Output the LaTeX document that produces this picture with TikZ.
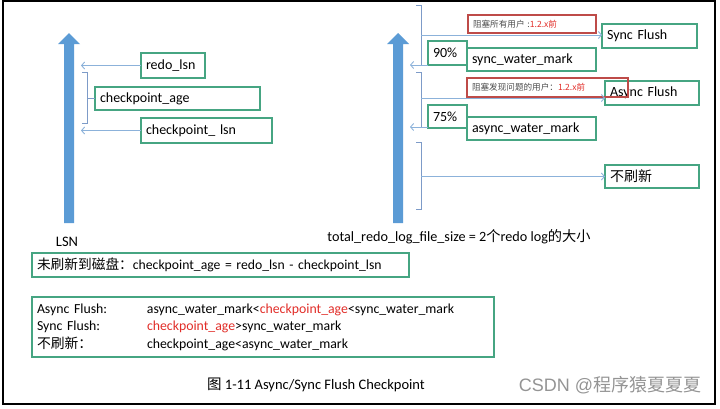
\documentclass[tikz,border=0pt]{standalone}
\usepackage{fontspec}
\setmainfont{Carlito}
\newfontfamily\cjk{Noto Sans CJK SC}
\newfontfamily\wmfont{Liberation Sans}
\usetikzlibrary{arrows.meta}
\definecolor{boxgreen}{RGB}{70,165,130}
\definecolor{boxred}{RGB}{190,75,72}
\definecolor{txtred}{RGB}{225,45,40}
\definecolor{ptrblue}{RGB}{140,178,218}
\definecolor{brkblue}{RGB}{125,155,200}
\definecolor{lsnblue}{RGB}{91,155,213}
\tikzset{
  gbox/.style={draw=boxgreen,line width=1.3pt,anchor=north west,outer sep=0pt,
    inner xsep=5pt,inner ysep=0pt,align=left,font=\fontsize{14}{16}\selectfont},
  rbox/.style={draw=boxred,line width=1.1pt,anchor=north west,outer sep=0pt,
    inner xsep=5pt,inner ysep=0pt,align=left,text=black!70,font=\cjk\fontsize{8.6}{10}\selectfont},
  ptr/.style={draw=ptrblue,line width=0.9pt,-{Straight Barb[length=3pt,width=7pt]}},
  brk/.style={draw=brkblue,line width=0.9pt},
  plain/.style={inner sep=0pt,font=\fontsize{14.2}{16}\selectfont}
}
\begin{document}
\begin{tikzpicture}[x=1pt,y=-1pt]
\useasboundingbox (0,0) rectangle (720,408);
\draw[line width=1.2pt] (3,1) rectangle (715,404);
% LSN arrows
\fill[lsnblue] (64,223)--(64,44)--(58,44)--(69,33)--(80,44)--(74,44)--(74,223)--cycle;
\fill[lsnblue] (393,223)--(393,44)--(387,44)--(398,33)--(409,44)--(403,44)--(403,223)--cycle;
\coordinate (edgeL) at (81,0);
\coordinate (edgeR) at (410,0);
\node[plain,font=\fontsize{14.5}{16}\selectfont] (lsn) at (67,242) {LSN};
% left side
\node[gbox,text width=54pt,minimum height=25pt] (redo) at (141,53) {redo\_lsn};
\node[gbox,text width=155pt,minimum height=23pt] (age) at (95,87) {checkpoint\_age};
\node[gbox,text width=121pt,minimum height=25pt] (clsn) at (141,118) {checkpoint\_ lsn};
\draw[ptr] (redo.west) -- (redo.west -| edgeL);
\draw[ptr] (clsn.west) -- (clsn.west -| edgeL);
\draw[brk] (82,72)--(87,72)--(87,123)--(82,123);
\coordinate (lb) at (87,98.5);
\draw[brk] (lb) -- (lb -| age.west);
% right side
\node[gbox,text width=85pt,minimum height=24pt] (sflush) at (602,24) {Sync Flush};
\node[gbox,text width=29pt,minimum height=24pt] (p90) at (428,41) {90\%};
\node[gbox,text width=119pt,minimum height=23pt] (smark) at (467,48) {sync\_water\_mark};
\node[gbox,text width=84pt,minimum height=24pt] (aflush) at (605,81) {Async Flush};
\node[gbox,text width=29pt,minimum height=23pt] (p75) at (428,105) {75\%};
\node[gbox,text width=119pt,minimum height=23pt] (amark) at (467,117) {async\_water\_mark};
\node[gbox,text width=84pt,minimum height=23pt] (nflush) at (605,165) {{\cjk 不刷新}};
\node[rbox,text width=118pt,minimum height=18pt] (red1) at (468,15) {阻塞所有用户 :\textcolor{txtred}{1.2.x前}};
\node[rbox,text width=151pt,minimum height=19pt] (red2) at (467,78) {阻塞发现问题的用户：\textcolor{txtred}{1.2.x前}};
\draw[brk] (416,5)--(421,5)--(421,65);
\draw[brk] (416,72)--(421,72)--(421,127);
\draw[brk] (416,142)--(421,142)--(421,209)--(416,209);
\coordinate (b1) at (421,35);
\coordinate (b2) at (421,98);
\coordinate (b3) at (421,176.5);
\draw[ptr] (b1) -- (b1 -| sflush.west);
\draw[ptr] (b2) -- (b2 -| aflush.west);
\draw[ptr] (b3) -- (b3 -| nflush.west);
\draw[ptr] (p90.south west) -- (p90.south west -| edgeR);
\coordinate (a75) at (428,127);
\draw[ptr] (a75) -- (a75 -| edgeR);
\node[plain] (total) at (459,237) {total\_redo\_log\_file\_size = 2{\cjk 个}redo log{\cjk 的大小}};
% formulas
\node[gbox,text width=367pt,minimum height=24pt,font=\fontsize{13.7}{16}\selectfont] (age2) at (32,253)
  {{\cjk 未刷新到磁盘：}checkpoint\_age = redo\_lsn - checkpoint\_lsn};
\node[gbox,text width=452pt,minimum height=60pt,font=\fontsize{13.8}{17.5}\selectfont] (rules) at (32,297)
  {\begin{tabular}{@{}p{110pt}@{}l@{}}
   Async Flush: & async\_water\_mark<\textcolor{txtred}{checkpoint\_age}<sync\_water\_mark\\
   Sync Flush: & \textcolor{txtred}{checkpoint\_age}>sync\_water\_mark\\
   {\cjk 不刷新：} & checkpoint\_age<async\_water\_mark
   \end{tabular}};
\node[plain,font=\fontsize{14.5}{16}\selectfont] (cap) at (316,385) {{\cjk 图} 1-11 Async/Sync Flush Checkpoint};
\node[plain,text=black!42,font=\wmfont\fontsize{18}{20}\selectfont] (wm) at (610,385) {CSDN @{\cjk 程序猿夏夏夏}};
\end{tikzpicture}
\end{document}
